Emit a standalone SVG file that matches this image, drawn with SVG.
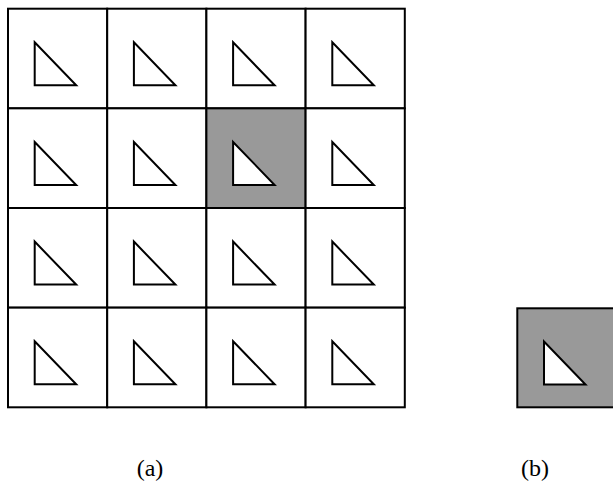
<svg xmlns="http://www.w3.org/2000/svg" width="613" height="487" viewBox="0 0 613 487">
<defs>
<style>
.cell{fill:#fff;stroke:#000;stroke-width:2}
.hl{fill:#999;stroke:#000;stroke-width:2}
.tri{fill:#fff;stroke:#000;stroke-width:2;stroke-linejoin:miter}
.lbl{font-family:"Liberation Serif",serif;font-size:24px;fill:#000;text-anchor:middle}
</style>
<path id="t" d="M0,0 L0,43 L41.5,43 Z" class="tri"/>
</defs>
<rect width="613" height="487" fill="#fff"/>
<g id="grid">
<g id="r0c0"><rect class="cell" x="8" y="8.7" width="99.2" height="99.65"/><use href="#t" x="34.7" y="42.3"/></g>
<g id="r0c1"><rect class="cell" x="107.2" y="8.7" width="99.2" height="99.65"/><use href="#t" x="133.9" y="42.3"/></g>
<g id="r0c2"><rect class="cell" x="206.4" y="8.7" width="99.2" height="99.65"/><use href="#t" x="233.1" y="42.3"/></g>
<g id="r0c3"><rect class="cell" x="305.6" y="8.7" width="99.2" height="99.65"/><use href="#t" x="332.3" y="42.3"/></g>

<g id="r1c0"><rect class="cell" x="8" y="108.35" width="99.2" height="99.65"/><use href="#t" x="34.7" y="141.95"/></g>
<g id="r1c1"><rect class="cell" x="107.2" y="108.35" width="99.2" height="99.65"/><use href="#t" x="133.9" y="141.95"/></g>
<g id="r1c2"><rect class="hl" x="206.4" y="108.35" width="99.2" height="99.65"/><use href="#t" x="233.1" y="141.95"/></g>
<g id="r1c3"><rect class="cell" x="305.6" y="108.35" width="99.2" height="99.65"/><use href="#t" x="332.3" y="141.95"/></g>

<g id="r2c0"><rect class="cell" x="8" y="208" width="99.2" height="99.65"/><use href="#t" x="34.7" y="241.6"/></g>
<g id="r2c1"><rect class="cell" x="107.2" y="208" width="99.2" height="99.65"/><use href="#t" x="133.9" y="241.6"/></g>
<g id="r2c2"><rect class="cell" x="206.4" y="208" width="99.2" height="99.65"/><use href="#t" x="233.1" y="241.6"/></g>
<g id="r2c3"><rect class="cell" x="305.6" y="208" width="99.2" height="99.65"/><use href="#t" x="332.3" y="241.6"/></g>

<g id="r3c0"><rect class="cell" x="8" y="307.65" width="99.2" height="99.65"/><use href="#t" x="34.7" y="341.25"/></g>
<g id="r3c1"><rect class="cell" x="107.2" y="307.65" width="99.2" height="99.65"/><use href="#t" x="133.9" y="341.25"/></g>
<g id="r3c2"><rect class="cell" x="206.4" y="307.65" width="99.2" height="99.65"/><use href="#t" x="233.1" y="341.25"/></g>
<g id="r3c3"><rect class="cell" x="305.6" y="307.65" width="99.2" height="99.65"/><use href="#t" x="332.3" y="341.25"/></g>
</g>
<g id="single"><rect class="hl" x="517.3" y="308.3" width="110" height="99"/><use href="#t" x="544" y="341.5"/></g>
<g id="connectors"/>
<text class="lbl" x="150" y="475.5">(a)</text>
<text class="lbl" x="535" y="475.5">(b)</text>
</svg>
